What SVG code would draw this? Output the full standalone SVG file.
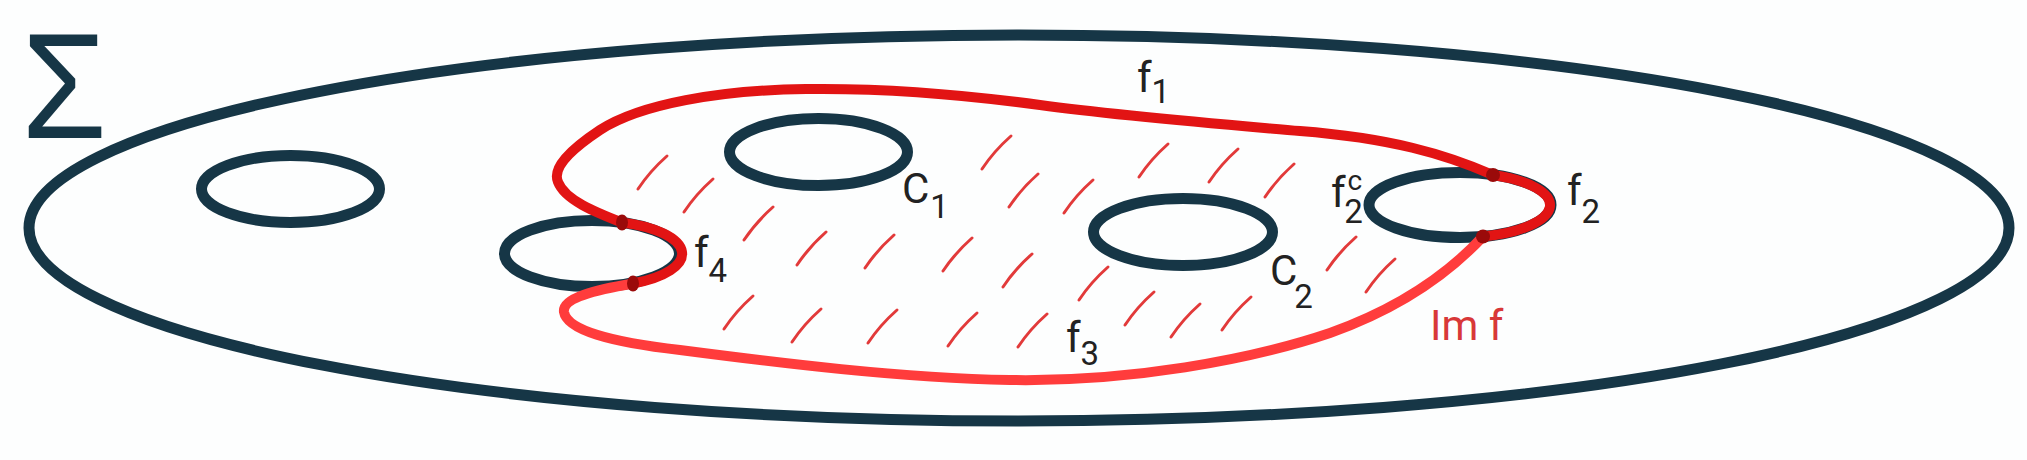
<svg xmlns="http://www.w3.org/2000/svg" xmlns:xlink="http://www.w3.org/1999/xlink" width="2027" height="460" viewBox="0 0 2027 460">
<style>
.dark{fill:none;stroke:#163646;stroke-width:11}
.redA{fill:none;stroke:#e21414;stroke-width:10;stroke-linecap:round}
.redB{fill:none;stroke:#ff3c3c;stroke-width:10;stroke-linecap:round}
.dot{fill:#9a0a0a}
.hatch{fill:none;stroke:#e23a3a;stroke-width:3;stroke-linecap:round}
.lbl{font-family:Roboto,"Liberation Sans",sans-serif;fill:#222;font-size:42px}
.s{font-size:33px}
.imf{font-family:Roboto,"Liberation Sans",sans-serif;fill:#d83838;font-size:42px}
</style>
<defs>
<path id="h" d="M0,0 q12,-18 29,-33"/>
</defs>
<rect width="2027" height="460" fill="#fdfefe"/>
<g id="sigma"><text transform="translate(28,138) scale(0.92,1)" x="-7" y="0" style="font-family:'Liberation Sans',sans-serif;font-size:150px;fill:#163646">Σ</text></g>
<g id="surface"><ellipse class="dark" cx="1019" cy="228" rx="990" ry="193"/></g>
<g id="hole0"><ellipse class="dark" cx="290.5" cy="189" rx="89" ry="33.5"/></g>
<g id="holeC1"><ellipse class="dark" cx="818.5" cy="152" rx="89" ry="33.5"/></g>
<g id="holeC2"><ellipse class="dark" cx="1183" cy="232" rx="89.5" ry="33.5"/></g>
<g id="holeF4"><ellipse class="dark" cx="592" cy="253.5" rx="87.5" ry="33"/></g>
<g id="holeF2"><ellipse class="dark" cx="1460" cy="205" rx="91" ry="32.5"/></g>
<g id="hatching" class="hatch">
<use href="#h" x="638" y="189"/><use href="#h" x="684" y="212"/><use href="#h" x="744" y="240"/><use href="#h" x="797" y="265"/>
<use href="#h" x="865" y="268"/><use href="#h" x="943" y="271"/><use href="#h" x="982" y="169"/><use href="#h" x="1009" y="207"/>
<use href="#h" x="1064" y="213"/><use href="#h" x="1003" y="287"/><use href="#h" x="1079" y="300"/><use href="#h" x="1139" y="177"/>
<use href="#h" x="1209" y="182"/><use href="#h" x="1265" y="197"/><use href="#h" x="1125" y="325"/><use href="#h" x="1171" y="337"/>
<use href="#h" x="1222" y="330"/><use href="#h" x="724" y="329"/><use href="#h" x="792" y="342"/><use href="#h" x="868" y="343"/>
<use href="#h" x="948" y="346"/><use href="#h" x="1018" y="347"/><use href="#h" x="1327" y="270"/><use href="#h" x="1366" y="292"/>
</g>
<g id="connectors">
<path class="redA" d="M1493,175 C1445,154 1390,138 1300,131 C1220,124 1120,116 1040,105 C960,94 880,88 806,89 C720,90 640,104 600,130 C570,150 552,168 558,182 C565,200 595,212 622,222.5 A87.5 33 0 0 1 633,283.5"/>
<path class="redA" d="M1493,175 A91 32.5 0 0 1 1483,236.5"/>
<path class="redB" d="M633,283.5 C595,290 562,298 564,312 C567,330 610,342 680,350 C780,363 900,378 1010,380 C1130,382 1250,360 1330,333 C1400,308 1450,272 1483,236.5"/>
<ellipse class="dot" cx="622" cy="222.5" rx="6" ry="8"/>
<ellipse class="dot" cx="633" cy="283.5" rx="6" ry="8"/>
<ellipse class="dot" cx="1493" cy="175" rx="7" ry="7"/>
<ellipse class="dot" cx="1483" cy="236.5" rx="7" ry="7"/>
</g>
<g id="labels">
<text class="lbl" x="1137" y="92">f<tspan class="s" dy="11">1</tspan></text>
<text class="lbl" x="902" y="203">C<tspan class="s" dx="1" dy="15">1</tspan></text>
<text class="lbl" x="694" y="267">f<tspan class="s" dy="15">4</tspan></text>
<text class="lbl" x="1270" y="285">C<tspan class="s" dx="-3" dy="23">2</tspan></text>
<text class="lbl" x="1331" y="207">f<tspan class="s" dx="2" dy="-17" style="font-size:28px">c</tspan><tspan class="s" dx="-18" dy="33">2</tspan></text>
<text class="lbl" x="1567" y="205">f<tspan class="s" dy="18">2</tspan></text>
<text class="lbl" x="1066" y="352">f<tspan class="s" dy="13">3</tspan></text>
<text class="imf" x="1430" y="340">Im f</text>
</g>
</svg>
